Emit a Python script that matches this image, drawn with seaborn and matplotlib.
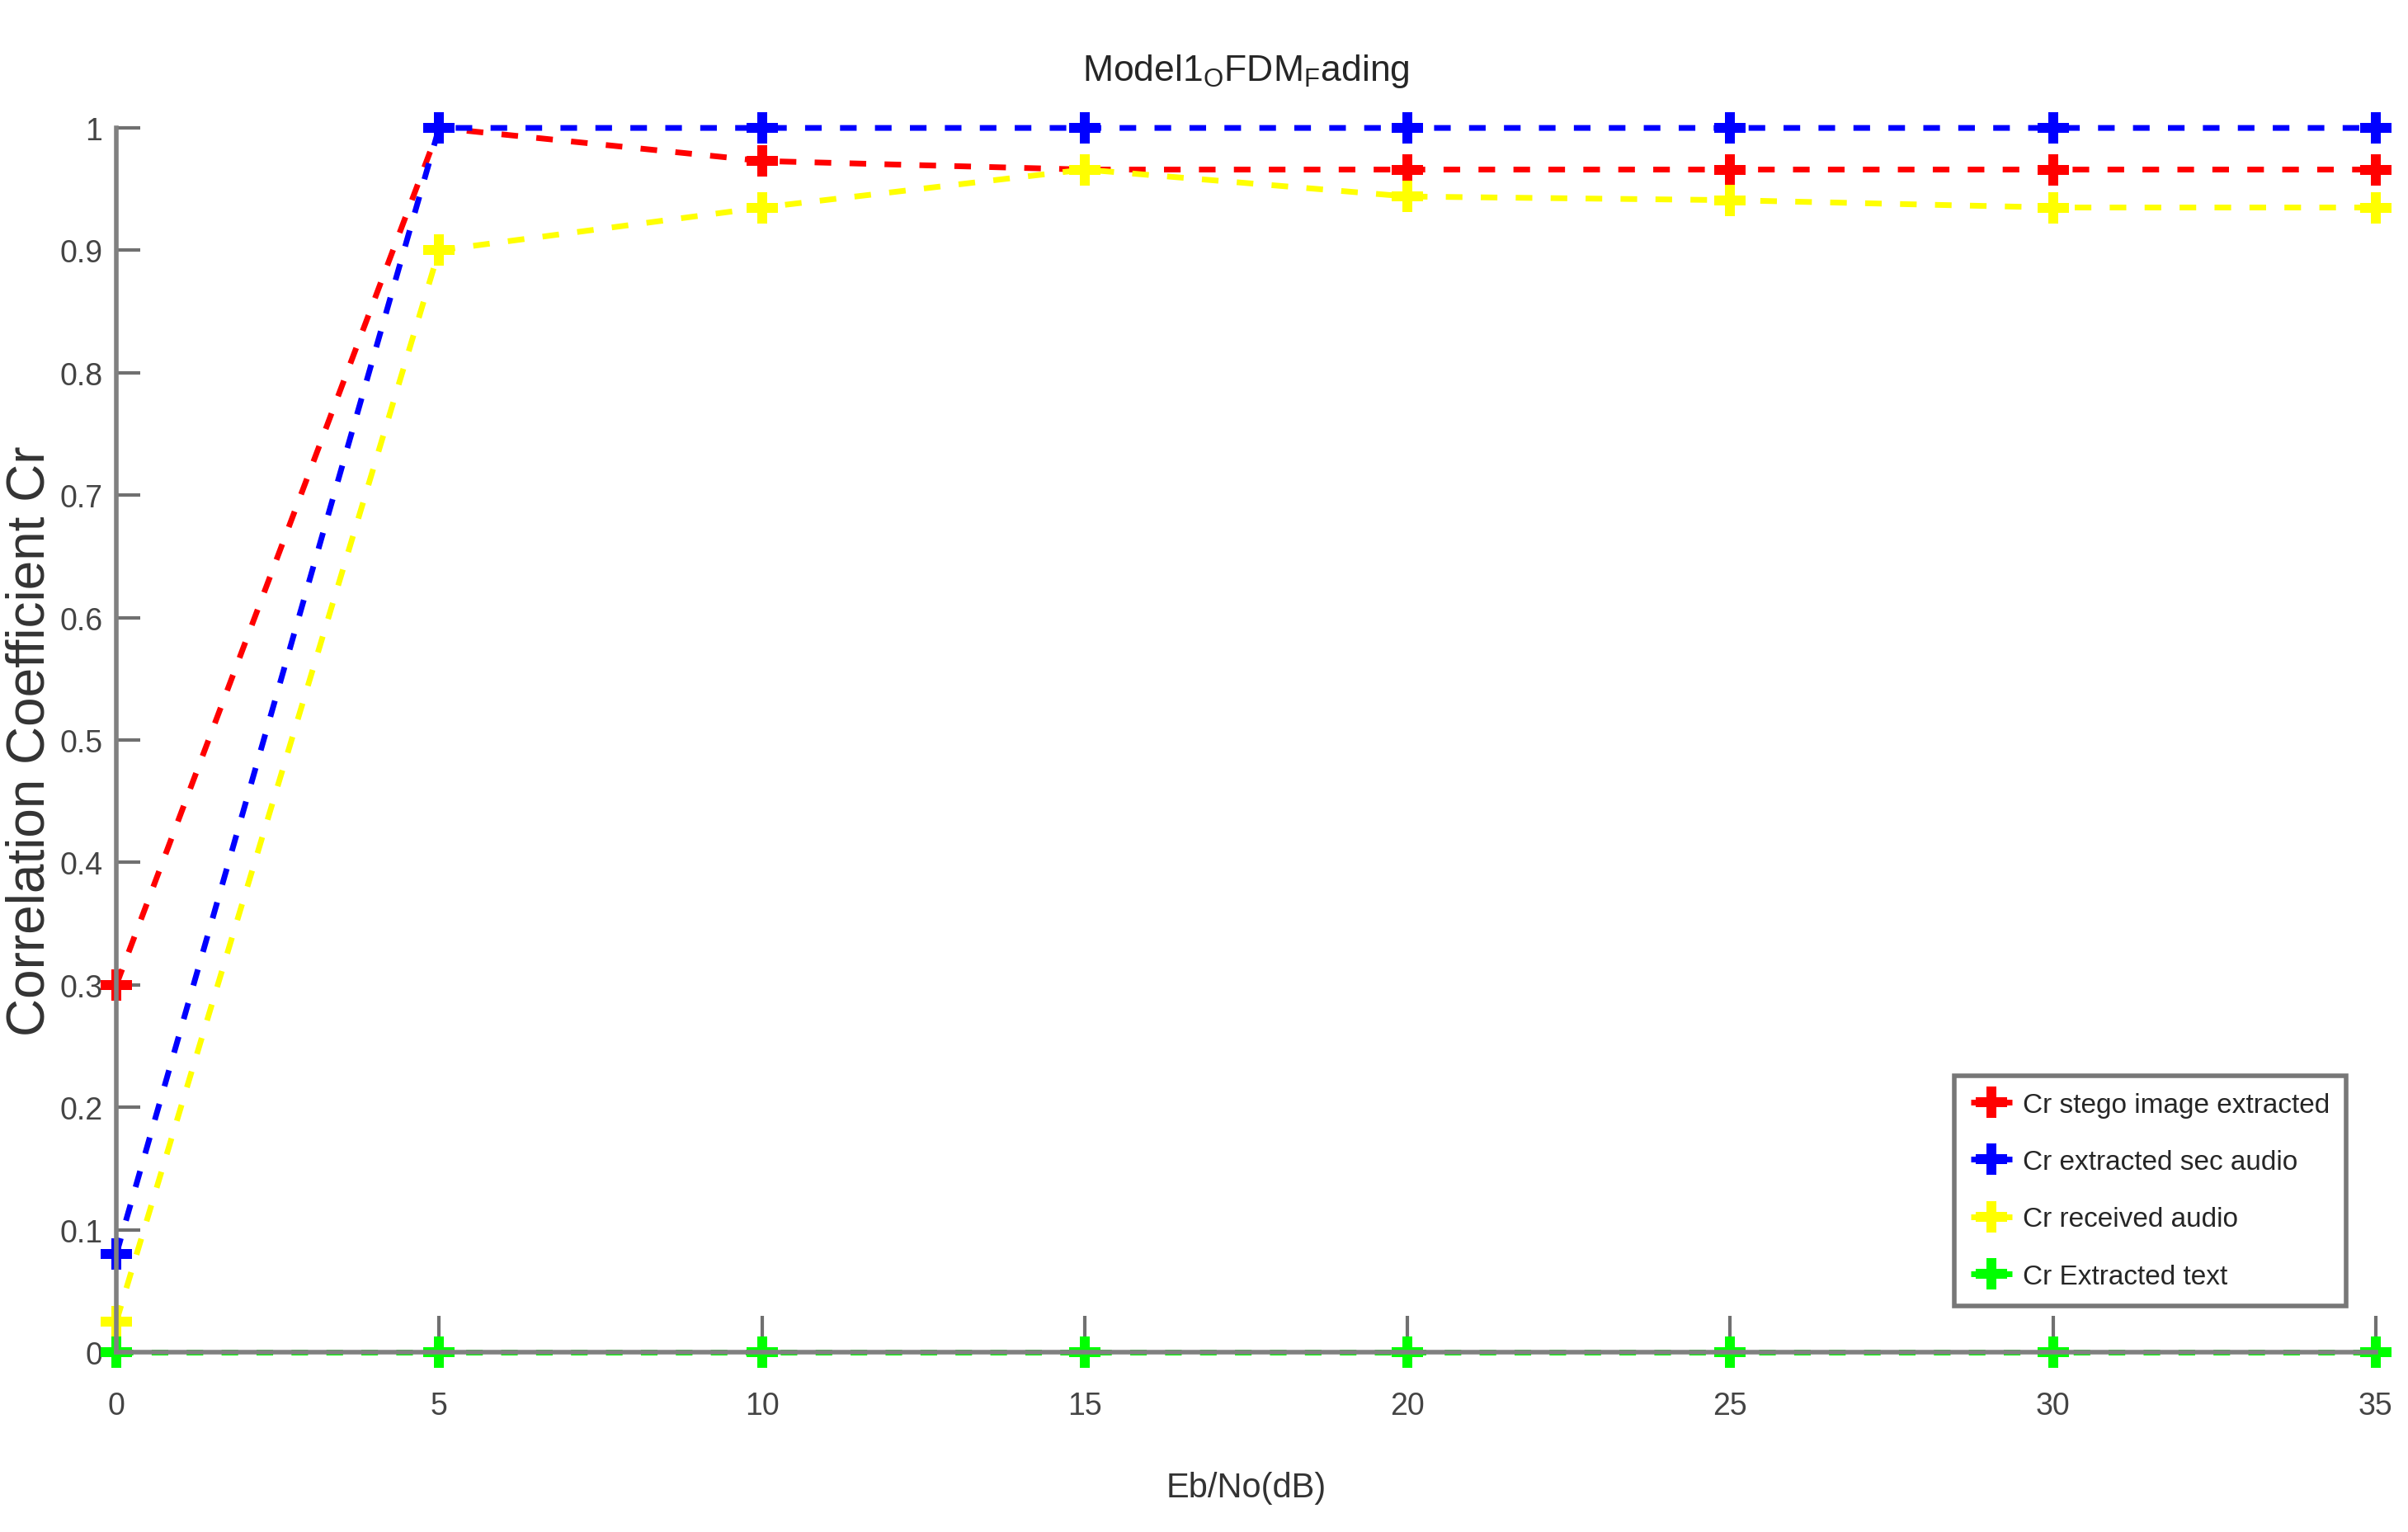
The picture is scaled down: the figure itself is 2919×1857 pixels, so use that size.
import matplotlib
matplotlib.use("Agg")
import matplotlib.pyplot as plt
import seaborn as sns

# Data
ebno = [0, 5, 10, 15, 20, 25, 30, 35]
cr_stego = [0.30, 1.0, 0.973, 0.966, 0.966, 0.966, 0.966, 0.966]
cr_sec_audio = [0.08, 1.0, 1.0, 1.0, 1.0, 1.0, 1.0, 1.0]
cr_received = [0.025, 0.90, 0.935, 0.966, 0.944, 0.941, 0.935, 0.935]
cr_text = [0.0, 0.0, 0.0, 0.0, 0.0, 0.0, 0.0, 0.0]

labels = ["Cr stego image extracted", "Cr extracted sec audio", "Cr received audio", "Cr Extracted text"]
colors = ["#ff0000", "#0000ff", "#ffff00", "#00ff00"]
series = [cr_stego, cr_sec_audio, cr_received, cr_text]

sns.set_style("white")
plt.rcParams["font.family"] = ["Liberation Sans", "DejaVu Sans"]
plt.rcParams["mathtext.fontset"] = "custom"
plt.rcParams["mathtext.rm"] = "Liberation Sans"

fig = plt.figure(figsize=(29.19, 18.58), dpi=100)
ax = fig.add_axes([0.0483, 0.1173, 0.9383, 0.7987])

for vals, lab, col in zip(series, labels, colors):
    sns.lineplot(x=ebno, y=vals, ax=ax, color=col, label=lab, marker="P",
                 markersize=28, markeredgewidth=0, linewidth=5,
                 linestyle=(0, (2.9, 3.2)), clip_on=False)

ax.set_xlim(0, 35)
ax.set_ylim(0, 1)
ax.set_xticks(ebno)
ax.set_yticks([i / 10 for i in range(11)])
ax.set_yticklabels(["0"] + [f"0.{i}" for i in range(1, 10)] + ["1"])

for side in ["top", "right"]:
    ax.spines[side].set_visible(False)
for side in ["left", "bottom"]:
    ax.spines[side].set_color("#808080")
    ax.spines[side].set_linewidth(4)

ax.tick_params(axis="y", left=True, direction="in", length=21, width=3, color="#707070",
               labelsize=27, labelcolor="#444444", pad=12)
ax.tick_params(axis="x", bottom=True, direction="in", length=32, width=3, color="#707070",
               labelsize=27, labelcolor="#444444", pad=34)

ax.set_xlabel("Eb/No(dB)", fontsize=30, color="#333333", labelpad=44)
ax.set_ylabel("Correlation Coefficient Cr", fontsize=46, color="#333333", labelpad=4)
ax.set_title(r"Model1$_{\mathrm{O}}$FDM$_{\mathrm{F}}$ading", fontsize=32, pad=42)

leg = ax.legend(loc="lower right", bbox_to_anchor=(0.987, 0.038),
                prop={"size": 24}, handlelength=1.5, borderaxespad=0,
                handletextpad=0.4, borderpad=0.6, labelspacing=1.15,
                frameon=True, fancybox=False)
leg.get_frame().set_edgecolor("#555555")
leg.get_frame().set_linewidth(4)

plt.savefig("out.png", dpi=100)
